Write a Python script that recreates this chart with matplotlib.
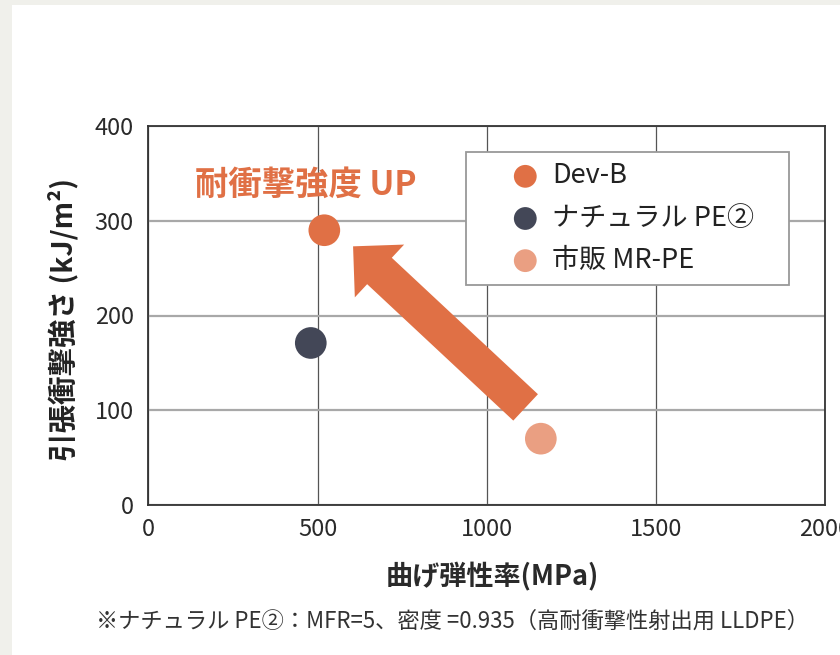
import matplotlib
matplotlib.use("Agg")
import matplotlib.pyplot as plt
from matplotlib.patches import Rectangle

plt.rcParams["font.family"] = ["Noto Sans CJK JP", "DejaVu Sans"]

# data
names = ["Dev-B", "ナチュラル PE②", "市販 MR-PE"]
flex_modulus = [520, 480, 1160]      # MPa
impact_strength = [290, 171, 70]     # kJ/m2
colors = ["#E07045", "#434757", "#EA9F82"]

arrow_from = (1115, 103)
arrow_to = (605, 273)

fig = plt.figure(figsize=(8.4, 6.55), dpi=100)
fig.patch.set_facecolor("#F0F0EB")
fig.add_artist(Rectangle((12 / 840, 0), 1, 1 - 5 / 655, transform=fig.transFigure,
                         facecolor="white", edgecolor="none", zorder=-10))

ax = fig.add_axes([148.4 / 840, 1 - 505 / 655, 676.6 / 840, 379 / 655])
ax.set_xlim(0, 2000)
ax.set_ylim(0, 400)
ax.set_xticks([0, 500, 1000, 1500, 2000])
ax.set_yticks([0, 100, 200, 300, 400])
ax.tick_params(length=0, labelsize=17, colors="#2A2A2A")
ax.tick_params(axis="y", pad=10.5)
ax.tick_params(axis="x", pad=9)
for s in ax.spines.values():
    s.set_color("#333333")
    s.set_linewidth(1.3)
ax.xaxis.grid(True, color="#555555", linewidth=0.9)
ax.yaxis.grid(True, color="#A8A8A8", linewidth=1.6)
ax.set_axisbelow(True)

for x, y, c, n in zip(flex_modulus, impact_strength, colors, names):
    ax.scatter(x, y, s=520, color=c, label=n, edgecolors="none", zorder=3)

ax.annotate("", xy=arrow_to, xytext=arrow_from,
            arrowprops=dict(arrowstyle="simple,head_length=0.5,head_width=1.0,tail_width=0.5",
                            mutation_scale=52, color="#E07045", shrinkA=0, shrinkB=0,
                            linewidth=0),
            zorder=4)

ax.text(138, 337, "耐衝撃強度 UP", color="#E07045", fontsize=24, fontweight="bold",
        ha="left", va="center")

# legend frame drawn separately so the box matches the reference size
ax.add_patch(Rectangle((0.4694, 0.5805), 0.4774, 0.3509, transform=ax.transAxes,
                       facecolor="white", edgecolor="#999999", linewidth=1.3, zorder=5))
leg = ax.legend(loc="center left", bbox_to_anchor=(0.533, 0.757), borderaxespad=0,
                fontsize=19.5, markerscale=0.72, frameon=False, labelspacing=0.56,
                handletextpad=0.4, borderpad=0, handlelength=1.2)
leg.set_zorder(6)
for t in leg.get_texts():
    t.set_color("#222222")

ax.set_ylabel("引張衝撃強さ (kJ/m²)", fontsize=20.5, fontweight="bold",
              color="#222222")
ax.yaxis.set_label_coords(-0.104, 0.49)
ax.set_xlabel("曲げ弾性率(MPa)", fontsize=19.5, fontweight="bold",
              color="#2A2A2A")
ax.xaxis.set_label_coords(0.508, -0.152)

fig.text(453 / 840, 1 - 621 / 655,
         "※ナチュラル PE②：MFR=5、密度 =0.935（高耐衝撃性射出用 LLDPE）",
         fontsize=16, color="#333333", ha="center", va="center")

fig.savefig("out.png", dpi=100)
